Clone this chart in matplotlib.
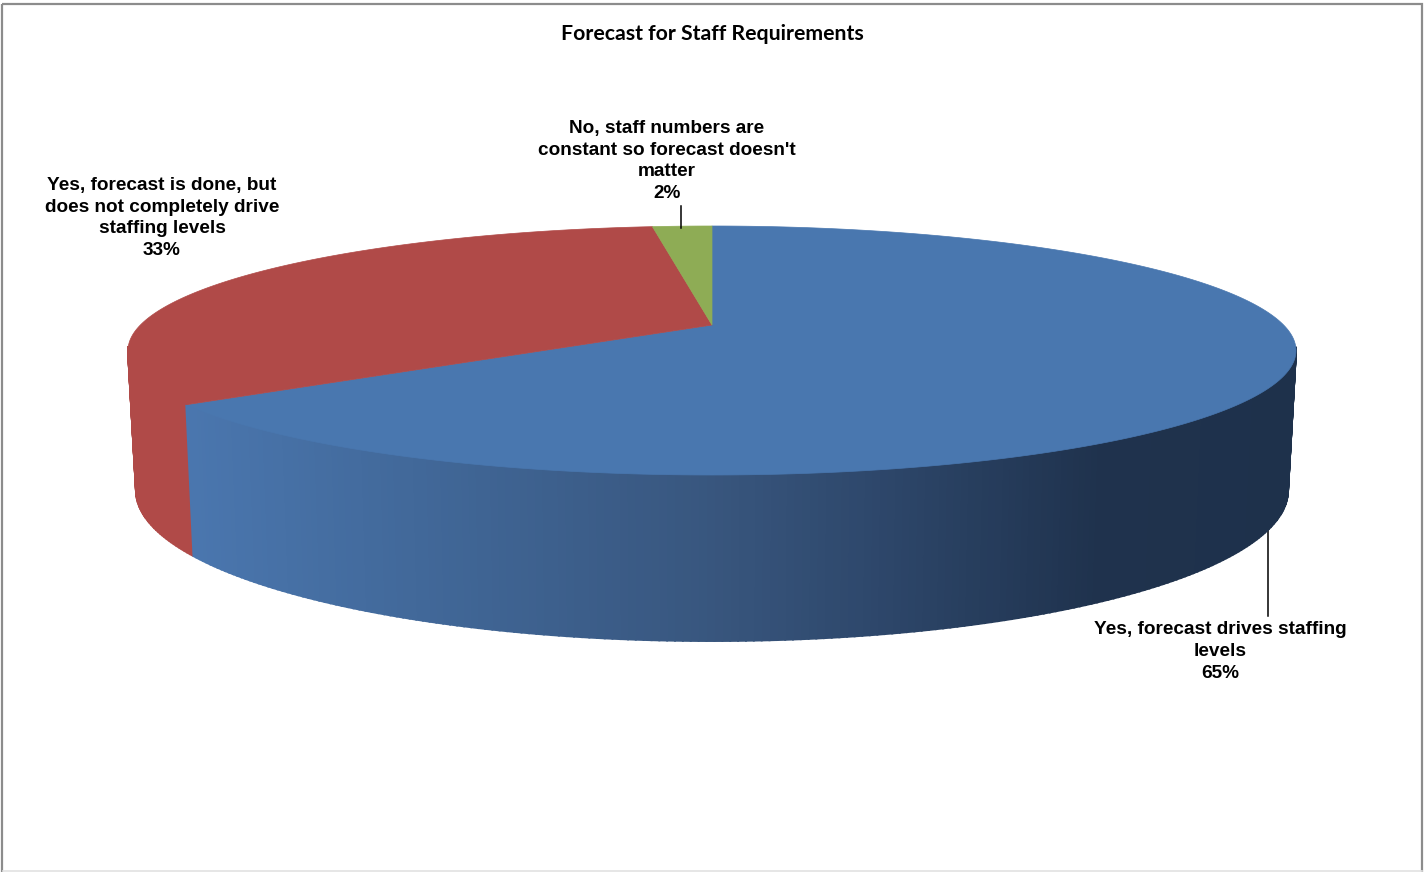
import numpy as np
import matplotlib
matplotlib.use("Agg")
import matplotlib.pyplot as plt
from matplotlib.patches import Polygon, Rectangle

title = "Forecast for Staff Requirements"
labels = ["Yes, forecast drives staffing\nlevels",
          "Yes, forecast is done, but\ndoes not completely drive\nstaffing levels",
          "No, staff numbers are\nconstant so forecast doesn't\nmatter"]
values = [65, 33, 2]
colors = ["#4977af", "#b04a48", "#8eac55"]

# wall shading of the first slice, going left to right across the pie
shade_x = [190, 450, 712, 900, 1100, 1300]
shade_r = [74, 64, 56, 44, 31, 30]
shade_g = [118, 102, 86, 69, 50, 49]
shade_b = [174, 150, 126, 104, 77, 75]

# pie geometry in pixels
cx, apex_y = 712, 325
far, near = 99, 150
k = (near - far) / (near + far)
a = far * (1 + k)
half_w = 584
b = half_w * np.sqrt(1 - k * k)
top_cy = 350
top_ry = 125
bot_cy, bot_rx, bot_ry = 490, 576, 151


def rim(theta):
    # theta in radians, clockwise from the back of the pie
    u, v = np.sin(theta), np.cos(theta)
    d = 1 + k * v
    return cx + b * u / d, apex_y - a * v / d


def floor(x, y):
    return cx + (x - cx) / half_w * bot_rx, bot_cy + (y - top_cy) / top_ry * bot_ry


fig = plt.figure(figsize=(14.25, 8.72), dpi=100)
ax = fig.add_axes([0, 0, 1, 1])
ax.set_xlim(0, 1425)
ax.set_ylim(872, 0)
ax.axis("off")

# outer frame, the bottom edge is much fainter
ax.add_patch(Rectangle((2.5, 4.5), 1420, 880, fill=False, ec="#8c8c8c", lw=1.6))
ax.plot([3, 1422], [870.5, 870.5], color="#e2e2e2", lw=1.2)

edges = 2 * np.pi * np.cumsum([0] + values) / sum(values)

# side walls first, tops painted over them; first slice last since it sits in front
for i in reversed(range(len(values))):
    n = max(int((edges[i + 1] - edges[i]) * 90), 2)
    th = np.linspace(edges[i], edges[i + 1], n + 1)
    xt, yt = rim(th)
    xb, yb = floor(xt, yt)
    for j in range(n):
        # the back half of the wall is hidden behind the top
        if yt[j] < top_cy - 3 and yt[j + 1] < top_cy - 3:
            continue
        if i == 0:
            xm = (xt[j] + xt[j + 1]) / 2
            c = (np.interp(xm, shade_x, shade_r) / 255,
                 np.interp(xm, shade_x, shade_g) / 255,
                 np.interp(xm, shade_x, shade_b) / 255)
        else:
            c = colors[i]
        pts = [(xt[j], yt[j]), (xt[j + 1], yt[j + 1]), (xb[j + 1], yb[j + 1]), (xb[j], yb[j])]
        ax.add_patch(Polygon(pts, closed=True, fc=c, ec=c, lw=1.4, zorder=2))

for i, col in enumerate(colors):
    th = np.linspace(edges[i], edges[i + 1], 300)
    xt, yt = rim(th)
    pts = [(cx, apex_y)] + list(zip(xt, yt))
    ax.add_patch(Polygon(pts, closed=True, fc=col, ec=col, lw=0.5, zorder=3))

# leader lines
ax.plot([681, 681], [206, 228], color="black", lw=1.1, zorder=4)
ax.plot([1268, 1268], [530, 616], color="black", lw=1.1, zorder=1)

ax.text(712, 34, title, ha="center", va="center", fontsize=15.35,
        fontweight="bold", family="Lato", color="black")

font = dict(ha="center", va="center", fontsize=13.65, fontweight="bold",
            family="Liberation Sans", color="black", linespacing=1.38)
label_pos = [(1220, 651.5), (162, 218), (667, 161)]
for text, val, (x, y) in zip(labels, values, label_pos):
    ax.text(x, y, f"{text}\n{val}%", **font)

fig.savefig("out.png", dpi=100)
